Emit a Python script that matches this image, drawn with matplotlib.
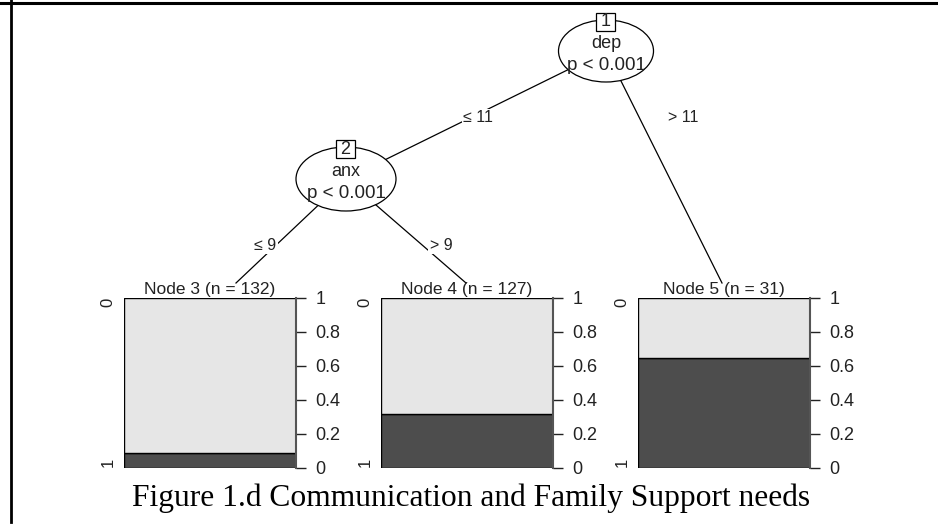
import numpy as np
import matplotlib.pyplot as plt
from matplotlib.patches import Ellipse, Rectangle

plt.rcParams['font.family'] = ['Liberation Sans', 'DejaVu Sans']

W, H = 938, 532

# nodos internos del árbol
inner_ids = [1, 2]
inner_vars = ["dep", "anx"]
inner_p = ["p < 0.001", "p < 0.001"]
split_labels = ["\u2264 11", "> 11", "\u2264 9", "> 9"]

# nodos terminales
node_ids = [3, 4, 5]
node_n = [132, 127, 31]
prop_1 = [0.09, 0.32, 0.65]  # proporción de la clase "1" (parte oscura)
class_labels = ["0", "1"]

ticks = [0, 0.2, 0.4, 0.6, 0.8, 1]
tick_labels = ["0", "0.2", "0.4", "0.6", "0.8", "1"]
caption = "Figure 1.d Communication and Family Support needs"

# posiciones (pixeles)
inner_xy = [(606, 51), (346, 179)]
inner_wh = [(95, 62), (100, 64)]
term_left = [124, 381, 638]
term_w, term_top, term_bot = 172, 298, 468
edges = [((606, 51), (346, 179), (478, 118)),
         ((606, 51), (722, 283), (683, 118)),
         ((346, 179), (236, 283), (265, 245)),
         ((346, 179), (466, 283), (441, 245))]

fig = plt.figure(figsize=(W / 100, H / 100), dpi=100)
ax0 = fig.add_axes([0, 0, 1, 1])
ax0.set_xlim(0, W)
ax0.set_ylim(H, 0)
ax0.axis('off')

# marco de la tabla
ax0.plot([0, W], [3, 3], color='black', lw=2.2)
ax0.plot([11, 11], [0, 522], color='black', lw=2)

# aristas con etiquetas
for (p0, p1, lab), txt in zip(edges, split_labels):
    ax0.plot([p0[0], p1[0]], [p0[1], p1[1]], color='black', lw=0.9, zorder=1)
    ax0.text(lab[0], lab[1], txt, ha='center', va='center', fontsize=11.5, color='#222222',
             zorder=3, bbox=dict(facecolor='white', edgecolor='none', pad=1.0))

# nodos internos
for i in range(len(inner_ids)):
    x, y = inner_xy[i]
    w, h = inner_wh[i]
    ax0.add_patch(Ellipse((x, y), w, h, facecolor='white', edgecolor='black', lw=0.9, zorder=2))
    ax0.text(x, y - 8, inner_vars[i], ha='center', va='center', fontsize=13, color='#222222', zorder=4)
    ax0.text(x, y + 15, inner_p[i], ha='center', va='center', fontsize=13.5, color='#222222', zorder=4)
    top = y - h / 2 + 2
    ax0.add_patch(Rectangle((x - 10, top - 9), 19, 18, facecolor='white', edgecolor='black',
                            lw=0.9, zorder=3))
    ax0.text(x - 0.5, top, str(inner_ids[i]), ha='center', va='center', fontsize=13,
             color='#222222', zorder=4)

# nodos terminales
for i in range(len(node_ids)):
    ax = fig.add_axes([term_left[i] / W, (H - term_bot) / H, term_w / W, (term_bot - term_top) / H])
    p = prop_1[i]
    ax.bar(0, p, width=1, color='#4d4d4d', edgecolor='black', lw=1)
    ax.bar(0, 1 - p, bottom=p, width=1, color='#e6e6e6', edgecolor='black', lw=1)
    ax.set_xlim(-0.5, 0.5)
    ax.set_ylim(0, 1)
    for s in ['top', 'left', 'bottom']:
        ax.spines[s].set_visible(False)
    ax.spines['right'].set_color('#555555')
    ax.spines['right'].set_linewidth(1.5)
    ax.set_xticks([])
    ax.yaxis.tick_right()
    ax.set_yticks(ticks)
    ax.set_yticklabels(tick_labels)
    ax.tick_params(axis='y', length=7, width=1, pad=7, labelsize=13, colors='#222222')
    ax.text(0.5, 1.005, f"Node {node_ids[i]} (n = {node_n[i]})", transform=ax.transAxes,
            ha='center', va='bottom', fontsize=12.5, color='#222222')
    ax.text(-0.093, 0.976, class_labels[0], transform=ax.transAxes, rotation=90,
            ha='center', va='center', fontsize=12, color='#222222')
    ax.text(-0.093, 0.035, class_labels[1], transform=ax.transAxes, rotation=90,
            ha='center', va='center', fontsize=12, color='#222222')

fig.text(471 / W, 1 - 498 / H, caption, family='Liberation Serif', fontsize=22.7,
         ha='center', va='center')

fig.savefig('out.png', dpi=100)
